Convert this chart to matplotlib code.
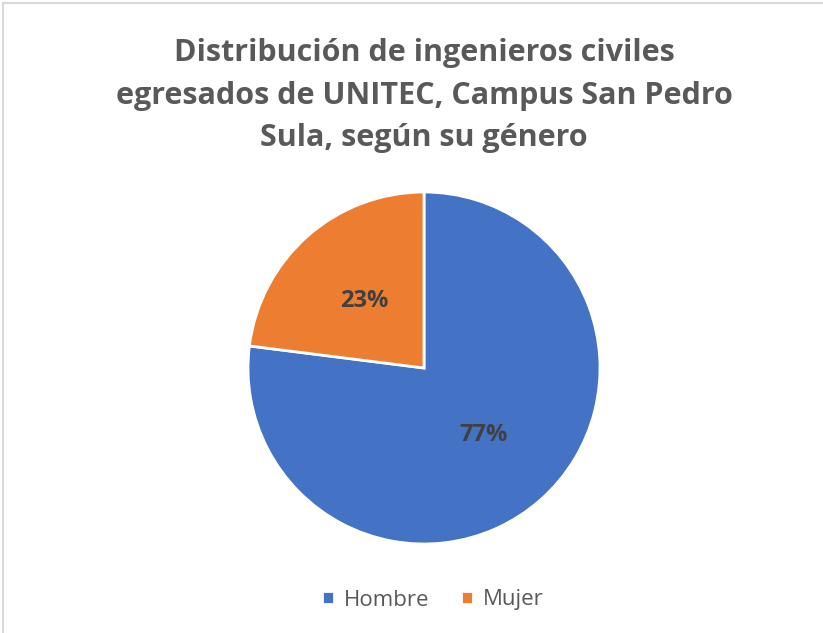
import matplotlib.pyplot as plt
from matplotlib.patches import Rectangle

labels = ["Hombre", "Mujer"]
values = [77, 23]
colors = ["#4472C4", "#ED7D31"]
title = "Distribución de ingenieros civiles\negresados de UNITEC, Campus San Pedro\nSula, según su género"

plt.rcParams['font.family'] = ['Open Sans', 'DejaVu Sans']

W, H = 823, 633
fig = plt.figure(figsize=(W / 100, H / 100), dpi=100)

# chart border (only top/left visible in the crop)
fig.patches.append(Rectangle((3 / W, -0.1), 1.2, 1 - 3 / H + 0.1, transform=fig.transFigure,
                             fill=False, edgecolor="#D9D9D9", linewidth=1.5))

cx, cy, r = 424, 368, 176
ax = fig.add_axes([(cx - r) / W, (H - cy - r) / H, 2 * r / W, 2 * r / H])
wedges, texts, autotexts = ax.pie(values, colors=colors, startangle=90, counterclock=False,
                                  autopct='%1.0f%%', pctdistance=0.51,
                                  wedgeprops=dict(edgecolor="white", linewidth=2),
                                  textprops=dict(color="#404040", fontsize=17, fontweight="bold"))
ax.set_xlim(-1, 1)
ax.set_ylim(-1, 1)
ax.set_aspect('auto')
ax.axis('off')

fig.text(cx / W, 1 - 38 / H, title, ha="center", va="top", fontsize=22, fontweight="bold",
         color="#595959", linespacing=1.55)

fig.legend(wedges, labels, loc="center", bbox_to_anchor=(433 / W, 1 - 600 / H), ncol=2,
           frameon=False, fontsize=16, labelcolor="#595959", handlelength=0.55, handleheight=0.55,
           handletextpad=0.45, columnspacing=1.4)

fig.savefig("out.png", dpi=100, facecolor="white")
